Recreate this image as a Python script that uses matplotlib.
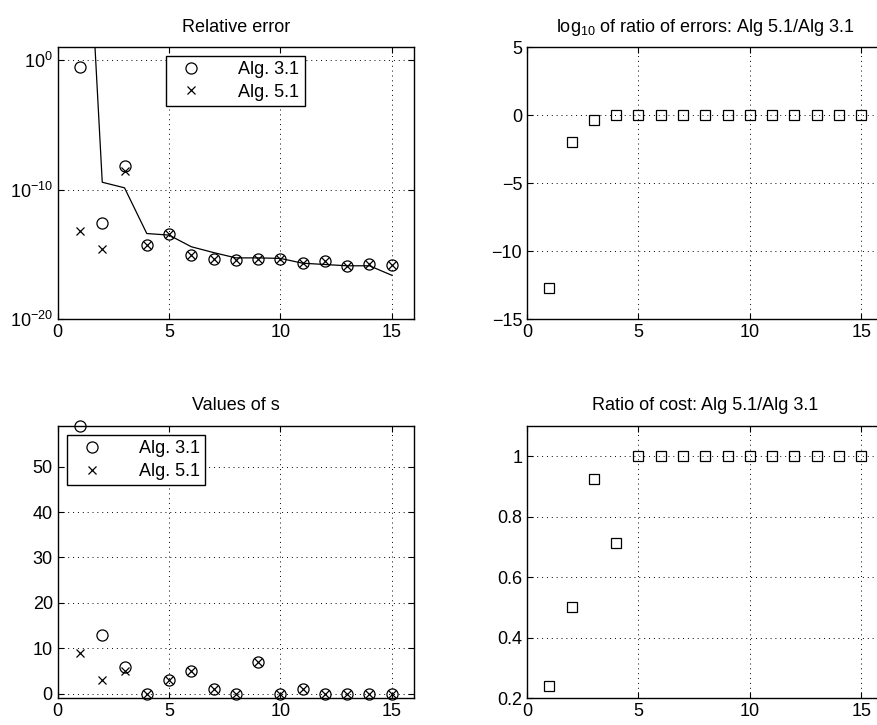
import numpy as np
import matplotlib
matplotlib.use('Agg')
import matplotlib.pyplot as plt

plt.rcParams['font.family'] = ['Liberation Sans', 'DejaVu Sans']
plt.rcParams['mathtext.fontset'] = 'custom'
plt.rcParams['mathtext.rm'] = 'Liberation Sans'
plt.rcParams['mathtext.it'] = 'Liberation Sans'
plt.rcParams['font.size'] = 13

# data
k = np.arange(1, 16)
err_alg31 = [10**-0.5, 10**-12.57, 10**-8.18, 10**-14.28, 10**-13.38, 10**-15.0, 10**-15.38,
             10**-15.44, 10**-15.38, 10**-15.36, 10**-15.67, 10**-15.51, 10**-15.9, 10**-15.77, 10**-15.82]
err_alg51 = [10**-13.18, 10**-14.54, 10**-8.54, 10**-14.28, 10**-13.38, 10**-15.0, 10**-15.38,
             10**-15.44, 10**-15.38, 10**-15.36, 10**-15.67, 10**-15.51, 10**-15.9, 10**-15.77, 10**-15.82]
cond_u = [10**22.6, 10**-9.42, 10**-9.85, 10**-13.38, 10**-13.5, 10**-14.4, 10**-14.85,
          10**-15.26, 10**-15.26, 10**-15.3, 10**-15.67, 10**-15.77, 10**-15.87, 10**-15.87, 10**-16.6]
s_alg31 = [59, 13, 6, 0, 3, 5, 1, 0, 7, 0, 1, 0, 0, 0, 0]
s_alg51 = [9, 3, 5, 0, 3, 5, 1, 0, 7, 0, 1, 0, 0, 0, 0]
cost_ratio = [0.242, 0.5, 0.923, 0.713, 1, 1, 1, 1, 1, 1, 1, 1, 1, 1, 1]

FS = 13


def style_axes(ax):
    ax.grid(True, linestyle=(0, (1, 4)), color='black', linewidth=0.7)
    ax.tick_params(direction='in', top=True, right=True, length=4, labelsize=FS)
    for sp in ax.spines.values():
        sp.set_linewidth(1.0)
    ax.set_xlim(0, 16)
    ax.set_xticks([0, 5, 10, 15])


fig = plt.figure(figsize=(8.77, 7.25), dpi=100)
w = 0.4063
ax1 = fig.add_axes([0.0658, 0.5596, w, 0.3752])
ax2 = fig.add_axes([0.601, 0.5596, w, 0.3752])
ax3 = fig.add_axes([0.0658, 0.0368, w, 0.376])
ax4 = fig.add_axes([0.601, 0.0368, w, 0.376])

# relative error
ax1.semilogy(k, cond_u, '-', color='black', linewidth=0.9)
ax1.semilogy(k, err_alg31, 'o', mfc='none', mec='black', ms=8, mew=0.9, label='Alg. 3.1')
ax1.semilogy(k, err_alg51, 'x', color='black', ms=6, mew=0.9, label='Alg. 5.1')
ax1.set_ylim(1e-20, 1e1)
ax1.set_yticks([1e-20, 1e-10, 1e0])
ax1.minorticks_off()
ax1.set_yticklabels(['$10^{-20}$', '$10^{-10}$', '$10^{0}$'])
style_axes(ax1)
ax1.set_title('Relative error', fontsize=FS, pad=11)
ax1.legend(loc='upper left', bbox_to_anchor=(0.304, 0.968), fancybox=False,
           edgecolor='black', framealpha=1, fontsize=FS, borderaxespad=0, handletextpad=1.5,
           handlelength=2.2, borderpad=0.3, labelspacing=0.3)

# log10 of ratio
ax2.plot(k, np.log10(np.array(err_alg51) / np.array(err_alg31)), 's', mfc='none', mec='black',
         ms=7, mew=0.9)
ax2.set_ylim(-15, 5)
ax2.set_yticks([-15, -10, -5, 0, 5])
style_axes(ax2)
ax2.set_title('log$_{10}$ of ratio of errors: Alg 5.1/Alg 3.1', fontsize=FS, pad=11)

# values of s
ax3.plot(k, s_alg31, 'o', mfc='none', mec='black', ms=8, mew=0.9, label='Alg. 3.1', clip_on=False)
ax3.plot(k, s_alg51, 'x', color='black', ms=6, mew=0.9, label='Alg. 5.1', clip_on=False)
ax3.set_ylim(-1, 59)
ax3.set_yticks([0, 10, 20, 30, 40, 50])
style_axes(ax3)
ax3.set_title('Values of s', fontsize=FS, pad=11)
ax3.legend(loc='upper left', bbox_to_anchor=(0.025, 0.966), fancybox=False,
           edgecolor='black', framealpha=1, fontsize=FS, borderaxespad=0, handletextpad=1.5,
           handlelength=2.2, borderpad=0.3, labelspacing=0.3)

# ratio of cost
ax4.plot(k, cost_ratio, 's', mfc='none', mec='black', ms=7, mew=0.9)
ax4.set_ylim(0.2, 1.1)
ax4.set_yticks([0.2, 0.4, 0.6, 0.8, 1])
ax4.set_yticklabels(['0.2', '0.4', '0.6', '0.8', '1'])
style_axes(ax4)
ax4.set_title('Ratio of cost: Alg 5.1/Alg 3.1', fontsize=FS, pad=11)

fig.savefig('out.png', dpi=100)
plt.close(fig)
